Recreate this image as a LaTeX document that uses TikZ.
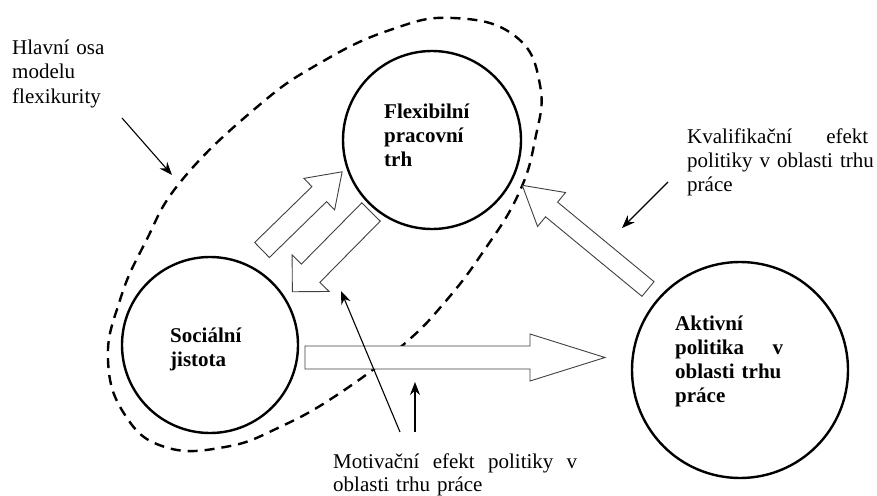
\documentclass[tikz,border=0pt]{standalone}
\usepackage{fontspec}
\setmainfont{Liberation Serif}
\usetikzlibrary{arrows.meta}

% hollow block arrow: tail, angle, length, shaft half width, head half width, head length
\newcommand{\hollowarrow}[6]{%
  \draw[blockarrow, shift={#1}, rotate=#2]
    (0,-#4) -- ({#3-#6},-#4) -- ({#3-#6},-#5) -- (#3,0)
    -- ({#3-#6},#5) -- ({#3-#6},#4) -- (0,#4) -- cycle;}

\begin{document}
\begin{tikzpicture}[
    x=1pt, y=-1pt,
    font=\fontsize{21}{24}\selectfont,
    bigcircle/.style={circle, draw, line width=2.4pt, inner sep=0pt},
    circtext/.style={anchor=base west, inner sep=0pt, align=left, font=\fontsize{21}{24}\selectfont\bfseries},
    note/.style={anchor=base west, inner sep=0pt, align=left},
    osaline/.style={line width=2.4pt, dash pattern=on 10pt off 7pt},
    blockarrow/.style={draw=black!75, line width=0.9pt, fill=white},
    arrow/.style={-{Stealth[length=13pt, width=10pt]}, line width=1.1pt}
]
\useasboundingbox (0,0) rectangle (877,495);

% Main axis of the model
\draw[osaline] plot[smooth cycle, tension=0.75] coordinates {(453,18) (515,36) (540,85) (535,140) (518,195) (483,252) (445,302) (403,345) (340,393) (280,427) (225,447) (165,447) (125,415) (108,360) (120,300) (145,243) (182,180) (257,107) (320,63) (390,30)};

% Circles
\node[bigcircle, minimum size=178pt] (flex) at (432,140) {};
\node[bigcircle, minimum size=176pt] (soc) at (210,345) {};
\node[bigcircle, minimum size=216pt] (akt) at (740,370) {};

\node[circtext, text width=100pt] (flextext) at (384,118) {Flexibilní\\pracovní\\trh};
\node[circtext, text width=90pt] (soctext) at (170,342) {Sociální\\jistota};
\node[circtext, text width=108pt] (akttext) at (675,330) {Aktivní\\politika\hfill v\\oblasti trhu\\práce};

% Block arrows
\hollowarrow{(305,357.5)}{0}{300}{11.5}{23.5}{75}
\hollowarrow{(262,250)}{44.3}{112}{10.5}{22}{32}
\hollowarrow{(371,212)}{225.4}{112}{13}{26}{26}
\hollowarrow{(648,289)}{140.5}{163}{9.5}{22}{38}

% Labels
\node[note, text width=110pt] (osa) at (12,55) {Hlavní osa\\modelu\\flexikurity};
\node[note, text width=181pt] (kval) at (687,143) {Kvalifikační\hfill efekt\\\mbox{politiky v oblasti trhu}\\práce};
\node[note, text width=244pt, font=\fontsize{21}{23}\selectfont] (motiv) at (333,468) {Motivační\hfill efekt\hfill politiky\hfill v\\oblasti trhu práce};

% Pointers
\coordinate (osafrom) at (122,118);
\coordinate (osato) at (172,175);
\coordinate (kvalfrom) at (668,182);
\coordinate (kvalto) at (622,228);
\coordinate (motivfromA) at (400,432);
\coordinate (motivtoA) at (341,291);
\coordinate (motivfromB) at (415,432);
\coordinate (motivtoB) at (415,382);

\draw[arrow] (osafrom) -- (osato);
\draw[arrow] (kvalfrom) -- (kvalto);
\draw[arrow] (motivfromA) -- (motivtoA);
\draw[arrow] (motivfromB) -- (motivtoB);

\end{tikzpicture}
\end{document}
